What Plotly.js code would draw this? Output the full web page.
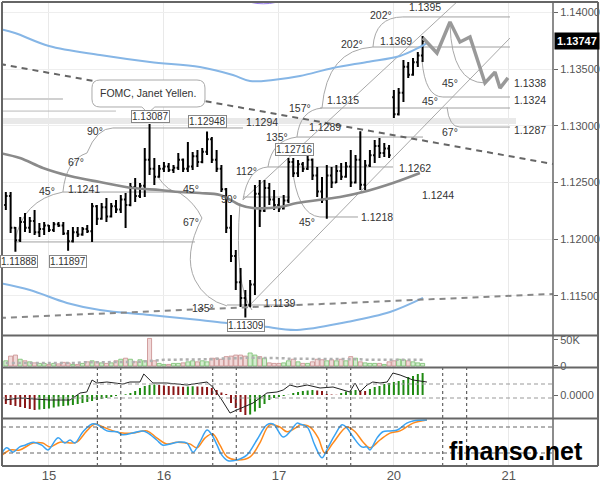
<!DOCTYPE html>
<html><head><meta charset="utf-8">
<script src="https://cdn.plot.ly/plotly-3.0.1.min.js"></script>
<style>html,body{margin:0;padding:0;background:#fff}#chart{width:600px;height:485px}</style>
</head><body><div id="chart"></div>
<script>
// ---------- DATA ----------
const barIndex = [-9,-8,-7,-6,-5,-4,-3,-2,-1,0,1,2,3,4,5,6,7,8,9,10,11,12,13,14,15,16,17,18,19,20,21,22,23,24,25,26,27,28,29,30,31,32,33,34,35,36,37,38,39,40,41,42,43,44,45,46,47,48,49,50,51,52,53,54,55,56,57,58,59,60,61,62,63,64,65,66,67,68,69,70,71,72,73,74,75,76,77,78];
const dayTickIndex = [0,24,48,72,96];
const dayTickLabels = ['15','16','17','20','21'];
const priceTicks = [1.115,1.12,1.125,1.13,1.135,1.14];
const lastPrice = 1.13747;

const openP = [1.12300,1.12380,1.12100,1.11990,1.12150,1.12100,1.12160,1.12060,1.12090,1.12120,1.12080,1.12130,1.12120,1.12050,1.11980,1.12060,1.12040,1.12090,1.12070,1.12290,1.12180,1.12280,1.12200,1.12290,1.12260,1.12350,1.12300,1.12460,1.12380,1.12470,1.12700,1.12620,1.12550,1.12620,1.12640,1.12610,1.12630,1.12700,1.12620,1.12640,1.12730,1.12680,1.12770,1.12880,1.12700,1.12620,1.12440,1.12100,1.11850,1.11620,1.11480,1.11420,1.11600,1.12400,1.12250,1.12450,1.12350,1.12300,1.12270,1.12340,1.12680,1.12580,1.12660,1.12620,1.12700,1.12560,1.12420,1.12350,1.12560,1.12500,1.12600,1.12550,1.12640,1.12500,1.12700,1.12480,1.12650,1.12740,1.12820,1.12760,1.12800,1.13250,1.13100,1.13290,1.13520,1.13450,1.13560,1.13620];
const highP = [1.12415,1.12415,1.12107,1.12195,1.12230,1.12195,1.12257,1.12142,1.12151,1.12124,1.12151,1.12151,1.12151,1.12080,1.12107,1.12107,1.12107,1.12124,1.12318,1.12301,1.12318,1.12362,1.12318,1.12345,1.12389,1.12406,1.12495,1.12539,1.12495,1.12803,1.13015,1.12715,1.12653,1.12680,1.12671,1.12653,1.12759,1.12710,1.12856,1.12768,1.12786,1.12803,1.12948,1.12900,1.12786,1.12653,1.12450,1.12212,1.11904,1.11746,1.11551,1.11640,1.12477,1.12521,1.12521,1.12495,1.12433,1.12362,1.12389,1.12716,1.12715,1.12698,1.12680,1.12759,1.12710,1.12636,1.12548,1.12653,1.12636,1.12653,1.12671,1.12680,1.12786,1.12742,1.12950,1.12698,1.12786,1.12874,1.12892,1.12847,1.12830,1.13315,1.13332,1.13579,1.13562,1.13597,1.13650,1.13791];
const lowP = [1.12257,1.12054,1.11888,1.11975,1.12063,1.12054,1.12036,1.12019,1.12036,1.12063,1.12063,1.12107,1.12036,1.11897,1.11970,1.12019,1.12030,1.12054,1.11975,1.12124,1.12170,1.12151,1.12190,1.12230,1.12230,1.12098,1.12290,1.12327,1.12362,1.12371,1.12565,1.12477,1.12540,1.12592,1.12592,1.12583,1.12609,1.12592,1.12592,1.12609,1.12636,1.12670,1.12742,1.12671,1.12592,1.12415,1.12054,1.11799,1.11551,1.11402,1.11309,1.11400,1.11508,1.12107,1.12240,1.12301,1.12257,1.12239,1.12260,1.12318,1.12548,1.12548,1.12592,1.12610,1.12521,1.12371,1.12318,1.12180,1.12450,1.12495,1.12521,1.12540,1.12459,1.12490,1.12433,1.12433,1.12636,1.12671,1.12715,1.12724,1.12715,1.13068,1.13090,1.13209,1.13421,1.13440,1.13518,1.13562];
const closeP = [1.12380,1.12100,1.11990,1.12150,1.12100,1.12160,1.12060,1.12090,1.12120,1.12080,1.12130,1.12120,1.12050,1.11980,1.12060,1.12040,1.12090,1.12070,1.12290,1.12180,1.12280,1.12200,1.12290,1.12260,1.12350,1.12300,1.12460,1.12380,1.12470,1.12700,1.12620,1.12550,1.12620,1.12640,1.12610,1.12630,1.12700,1.12620,1.12640,1.12730,1.12680,1.12770,1.12880,1.12700,1.12620,1.12440,1.12100,1.11850,1.11620,1.11480,1.11420,1.11600,1.12400,1.12250,1.12450,1.12350,1.12300,1.12270,1.12340,1.12680,1.12580,1.12660,1.12620,1.12700,1.12560,1.12420,1.12350,1.12560,1.12500,1.12600,1.12550,1.12640,1.12500,1.12700,1.12480,1.12650,1.12740,1.12820,1.12760,1.12800,1.12740,1.13100,1.13290,1.13520,1.13450,1.13560,1.13620,1.13747];

const volumeK = [10,19,21,13,10,8,6,5,5,3,5,4,7,6,3,3,5,8,10,8,6,5,6,10,13,15,13,8,12,10,53,10,5,3,3,5,5,6,8,10,8,10,8,15,15,13,18,19,21,21,19,25,21,18,15,6,5,5,6,10,13,8,5,5,8,13,12,10,12,10,13,10,18,15,8,6,5,5,5,3,8,10,13,12,10,8,6,5];
const volumeMaK = [6,6,6,6,6,6,5,5,5,5,6,6,6, 6,6,6,7,7,7,7,7,7,7,7,8,8,8,8,8, 9,10,11,11,12,12,12,12,12,12,12,12,13,13, 13,14,14,14,15,15,15,16,16,16,16,16,15,15,15,15,14,14,14, 13,13,13,13,13,13,13,13,13,13,13,13,13,12,12,12,12,12,12,12,12,12,12,12,12,12];

// MACD values in units of 0.00001
const macdHist = [-18,-20,-22,-24,-26,-28,-30,-29,-28,-27,-25,-23,-22,-21,-20,-18,-16,-14,-12,-10,-8,-6,-4,-2,0.5,1.5,4,8,14,18,20,21,20,19,18,17.5,17,16.5,17,17.5,17,16.5,16,14,10,5,2,-16,-26,-34,-40,-39,-33,-26,-18,-10,-6,-4,-2,0.5,4,6,8,9,10,9,8,2,1,0.5,4,7,9,10,9,8,12,16,18,22,24,26,28,30,36,38,42,44];
const macdLineX = [-9.2,-6,0.2,4.4,6.5,7.9,9,10,12.1,15.4,16.9,19,19.8,21.7,24.6,28.8,33,34.2,36.1,37.8,39.2,42.6,45.5,47.6,48.9,50.3,51.8,53.9,56.6,59.3,62.8,63.9,64.9,66.4,67.6,69.1,70.6,71.8,73.3,76,78.9];
const macdLineV = [-10,-6,-10,-10,4,6,30,24,26,22,26,26,42,24,24,20,26,16,-10,-36,-30,-16,4,6,10,20,16,20,14,16,6,24,6,20,26,24,26,44,40,30,26];

const stochKX = [-9.8,-8.8,-7.5,-6.1,-5,-3.3,-1.5,-0.2,1.9,3.3,4.4,5.4,7.1,9,10.2,12.1,14.2,15.4,17.5,19.6,20.7,22.5,23.8,25.3,26.9,28.8,30.1,31.5,33,34,35.1,36.1,37.4,39.2,41.3,43.4,45.5,46.8,48.9,50.3,51.8,52.4,53.9,55.5,57,58.2,59.7,61.2,62.2,63.5,65.3,66.4,67,68.5,69.7,71.2,72.7,74.7,76,78.9];
const stochKV = [20,32,22,34,38,45,38,27,55,43,50,43,69,87,85,71,69,62,66,71,66,50,38,41,45,43,22,45,73,62,38,15,2,4,15,50,85,87,57,69,89,87,80,38,9,32,62,85,78,57,34,34,27,55,69,71,73,89,94,96];
const stochDX = [-9.8,-8.1,-6.1,-3.3,-1.3,0.2,2.3,4.4,5.8,7.9,9.6,11.3,13.4,15.4,17.5,20.5,22.5,24.6,26.7,29.4,30.9,32.6,34.2,35.7,37.2,39.2,42,44,46.1,48.2,49.7,51.8,52.4,54.5,56.2,57.6,59.3,62.2,63.9,65.6,67,69.1,71.2,73.3,76,78.9];
const stochDV = [15,27,27,43,43,34,45,43,45,71,87,80,71,66,66,71,55,41,45,41,32,55,64,38,11,4,11,43,85,80,69,80,85,80,55,20,43,80,69,45,32,50,66,71,89,96];

const upperBandX = [-10.23,-7.10,0,10.65,21.09,31.52,38.41,41.96,46.76,52.40,59.29,66.39,73.28,77.45,78.91];
const upperBandP = [1.13853,1.13817,1.13703,1.13623,1.13562,1.13518,1.13447,1.13394,1.13403,1.13438,1.13509,1.13562,1.13615,1.13694,1.13729];
const lowerBandX = [-10.23,-3.97,3.76,10.65,21.09,31.52,37.16,44.05,51.77,62.21,71.19,78.08];
const lowerBandP = [1.11612,1.11551,1.11437,1.11375,1.11331,1.11287,1.11260,1.11234,1.11199,1.11269,1.11357,1.11481];
const maX = [-10.23,-6.05,-1.25,4.38,10.65,17.54,23.17,27.35,31.52,35.70,39.87,42.59,48.23,51.77,60.75,65.55,71.82,77.45];
const maP = [1.12759,1.12715,1.12627,1.12556,1.12503,1.12450,1.12433,1.12415,1.12406,1.12389,1.12301,1.12274,1.12283,1.12318,1.12371,1.12415,1.12495,1.12583];
const downTrendX = [-10.23,105.22];
const downTrendP = [1.13544,1.12662];
const supportX = [-10.23,105.22];
const supportP = [1.11305,1.11516];
const forecastX = [78.08,81.00,83.72,85.80,87.89,91.02,93.11,94.15,95.82];
const forecastP = [1.13773,1.13641,1.13914,1.13738,1.13782,1.13377,1.13473,1.13332,1.13421];

// drawn level lines: start, end, price
const levelStart = [73.90,67.64,56.58,82.25,85.80,13.36,51.77,45.72,56.58,2.92,37.16,-7.10,40.50];
const levelEnd   = [96.24,96.24,96.24,96.24,96.24,40.50,78.08,71.82,64.51,27.35,52.40,30.48,50.31];
const levelPrice = [1.13959,1.13694,1.13156,1.13253,1.12988,1.12980,1.12900,1.12636,1.12195,1.12415,1.11419,1.11975,1.12371];

// ---------- BUILD ----------
const font = 'Liberation Sans, Arial, sans-serif';
const isUp = closeP.map((c,i)=>c>=openP[i]);
const volFill = isUp.map(u=>u?'rgba(160,215,150,0.45)':'rgba(225,170,170,0.45)');
const volLine = isUp.map(u=>u?'rgba(120,190,110,0.8)':'rgba(200,140,140,0.8)');
const histCol = macdHist.map((v,i)=> (i>0 && v>=macdHist[i-1]) ? '#1f8a12' : '#8b1515');

const traces = [
  {type:'scatter',mode:'lines',x:upperBandX,y:upperBandP,line:{color:'#86b6e6',width:2,shape:'spline'},xaxis:'x',yaxis:'y',hoverinfo:'skip'},
  {type:'scatter',mode:'lines',x:lowerBandX,y:lowerBandP,line:{color:'#86b6e6',width:2,shape:'spline'},xaxis:'x',yaxis:'y',hoverinfo:'skip'},
  {type:'scatter',mode:'lines',x:maX,y:maP,line:{color:'#8a8a8a',width:2.6,shape:'spline'},xaxis:'x',yaxis:'y',hoverinfo:'skip'},
  {type:'scatter',mode:'lines',x:downTrendX,y:downTrendP,line:{color:'#666',width:2,dash:'6px,5px'},xaxis:'x',yaxis:'y',hoverinfo:'skip'},
  {type:'scatter',mode:'lines',x:supportX,y:supportP,line:{color:'#888',width:2,dash:'6px,5px'},xaxis:'x',yaxis:'y',hoverinfo:'skip'},
  {type:'ohlc',x:barIndex,open:openP,high:highP,low:lowP,close:closeP,tickwidth:0.35,
    increasing:{line:{color:'#000',width:2}},decreasing:{line:{color:'#000',width:2}},xaxis:'x',yaxis:'y',hoverinfo:'skip'},
  {type:'scatter',mode:'lines',x:forecastX,y:forecastP,line:{color:'#999',width:3.5},xaxis:'x',yaxis:'y',hoverinfo:'skip'},
  {type:'bar',x:barIndex,y:volumeK,width:0.85,marker:{color:volFill,line:{color:volLine,width:1}},xaxis:'x',yaxis:'y2',hoverinfo:'skip'},
  {type:'scatter',mode:'lines',x:barIndex,y:volumeMaK,line:{color:'#b0b0b0',width:2.5,dash:'dot'},xaxis:'x',yaxis:'y2',hoverinfo:'skip'},
  {type:'bar',x:barIndex,y:macdHist,width:0.42,marker:{color:histCol},xaxis:'x',yaxis:'y3',hoverinfo:'skip'},
  {type:'scatter',mode:'lines',x:macdLineX,y:macdLineV,line:{color:'#222',width:1},xaxis:'x',yaxis:'y3',hoverinfo:'skip'},
  {type:'scatter',mode:'lines',x:stochDX,y:stochDV,line:{color:'#ff8a1c',width:1.5,shape:'spline'},xaxis:'x',yaxis:'y4',hoverinfo:'skip'},
  {type:'scatter',mode:'lines',x:stochKX,y:stochKV,line:{color:'#3ba3f2',width:1.5,shape:'spline'},xaxis:'x',yaxis:'y4',hoverinfo:'skip'}
];

const shapes = [];
shapes.push({type:'rect',xref:'x',yref:'y',x0:-10.23,x1:97.5,y0:1.13015,y1:1.13068,fillcolor:'#e9e9e9',line:{width:0},layer:'between'});
shapes.push({type:'line',xref:'x',yref:'y',x0:-10.23,x1:2.92,y0:1.13235,y1:1.13235,line:{color:'#d0d0d0',width:2},layer:'between'});
shapes.push({type:'line',xref:'x',yref:'y',x0:-10.23,x1:13.99,y0:1.13129,y1:1.13129,line:{color:'#bbb',width:1},layer:'between'});
levelPrice.forEach((p,i)=>shapes.push({type:'line',xref:'x',yref:'y',x0:levelStart[i],x1:levelEnd[i],y0:p,y1:p,line:{color:'#a0a0a0',width:1},layer:'between'}));
const arcPaths = [
  'M-7.10,1.11975 Q-5.64,1.12345 2.92,1.12415 Q3.55,1.12698 7.93,1.12759 Q10.02,1.12980 13.36,1.12980',
  'M22.76,1.12548 Q24.84,1.12415 27.35,1.12406 Q30.48,1.12318 31.94,1.12186 Q27.97,1.11861 30.48,1.11640 Q32.57,1.11463 37.16,1.11411',
  'M39.87,1.12318 Q38.62,1.11595 42.38,1.11375',
  'M40.50,1.12345 Q41.54,1.12627 45.72,1.12636 Q46.56,1.12874 51.77,1.12900 Q52.40,1.13138 57.00,1.13156 Q58.04,1.13668 67.64,1.13694 Q68.06,1.13959 73.90,1.13959',
  'M50.73,1.12653 Q51.77,1.12212 56.58,1.12195',
  'M77.87,1.13579 Q78.50,1.13253 82.25,1.13253',
  'M83.72,1.13888 Q84.13,1.13377 91.02,1.13377',
  'M83.09,1.13165 Q83.51,1.12988 85.80,1.12988',
  'M41.34,1.11393 L96.24,1.13773',
  'M40.50,1.12345 L85.59,1.14108'
];
arcPaths.forEach(p=>shapes.push({type:'path',xref:'x',yref:'y',path:p,line:{color:'#a8a8a8',width:1},layer:'between'}));
shapes.push({type:'path',xref:'x',yref:'y',layer:'above',fillcolor:'#fff',line:{color:'#aaa',width:1},
  path:'M10.65,1.13403 L30.90,1.13403 Q32.57,1.13403 32.57,1.13333 L32.57,1.13235 Q32.57,1.13165 30.90,1.13165 L22.10,1.13165 L20.67,1.13111 L19.40,1.13165 L10.65,1.13165 Q8.98,1.13165 8.98,1.13235 L8.98,1.13333 Q8.98,1.13403 10.65,1.13403 Z'});
shapes.push({type:'circle',xref:'x',yref:'y',x0:41.3,x1:48.2,y0:1.14075,y1:1.14150,line:{color:'#9b7ff0',width:1}});
[22,-6].forEach(v=>shapes.push({type:'line',xref:'paper',yref:'y3',x0:0,x1:1,y0:v,y1:v,line:{color:'#999',width:1,dash:'4px,3px'}}));
[80,20].forEach(v=>shapes.push({type:'line',xref:'paper',yref:'y4',x0:0,x1:1,y0:v,y1:v,line:{color:'#666',width:1,dash:'4px,3px'}}));
[10.1,15,34.2,39.1,58,63,82.2,87.2].forEach(v=>shapes.push({type:'line',xref:'x',yref:'paper',x0:v,x1:v,y0:0,y1:0.2112,line:{color:'#444',width:1,dash:'dot'}}));
[1,0.2812,0.2123,0.1024,0].forEach(yy=>shapes.push({type:'line',xref:'paper',yref:'paper',x0:0,x1:1.0817,y0:yy,y1:yy,line:{color:'#666',width:2}}));
[0,1,1.0817].forEach(xx=>shapes.push({type:'line',xref:'paper',yref:'paper',x0:xx,x1:xx,y0:0,y1:1,line:{color:'#666',width:xx===1?1.5:2}}));

const annotations = [];
const plainLabels = [
 ['1.1395',78.5,1.14047],['202°',69.3,1.13976],['1.1369',72.4,1.13747],['202°',63.3,1.13720],['1.1315',61.4,1.13227],
 ['157°',52.4,1.13156],['1.1289',57.6,1.12988],['135°',47.6,1.12900],['112°',41.3,1.12600],['1.1262',76.4,1.12627],
 ['1.1244',81.2,1.12389],['1.1218',68.5,1.12195],['45°',53.9,1.12151],['1.1139',48.2,1.11437],['45°',79.5,1.13218],
 ['45°',83.7,1.13377],['67°',83.7,1.12944],['1.1338',100.4,1.13377],['1.1324',100.4,1.13227],['1.1287',100.4,1.12962],
 ['1.1294',44.5,1.13032],['90°',9.6,1.12953],['67°',5.6,1.12680],['45°',-0.4,1.12424],['1.1241',7.3,1.12442],
 ['45°',29.6,1.12442],['67°',29.6,1.12151],['90°',37.6,1.12354],['135°',32.2,1.11393]
];
plainLabels.forEach(l=>annotations.push({xref:'x',yref:'y',x:l[1],y:l[2],text:l[0],showarrow:false,borderpad:0,
  font:{family:font,size:10.5,color:'#333'},xanchor:'center',yanchor:'middle'}));
const boxLabels = [['1.11888',-6.3,1.11799],['1.11897',4.0,1.11799],['1.13087',21.1,1.13081],['1.12948',33.0,1.13034],['1.12716',51.2,1.12786],['1.11309',41.1,1.11234]];
boxLabels.forEach(l=>annotations.push({xref:'x',yref:'y',x:l[1],y:l[2],text:l[0],showarrow:false,bgcolor:'#fff',
  bordercolor:'#888',borderwidth:1,borderpad:0,font:{family:font,size:10,color:'#333'},xanchor:'center',yanchor:'middle'}));
annotations.push({xref:'x',yref:'y',x:20.77,y:1.13284,text:'FOMC, Janet Yellen.',showarrow:false,font:{family:font,size:10.5,color:'#333'}});
annotations.push({xref:'paper',yref:'y',x:1.002,y:lastPrice,xanchor:'left',yanchor:'middle',text:'<b>'+lastPrice.toFixed(5)+'</b>',
  showarrow:false,bgcolor:'#000',borderpad:2,font:{family:font,size:11,color:'#fff'}});
annotations.push({xref:'paper',yref:'paper',x:0.933,y:-0.001,xanchor:'center',yanchor:'bottom',text:'<b>finanso.net</b>',
  showarrow:false,borderpad:0,font:{family:font,size:25,color:'#000'}});

const axisFont = {family:font,size:11,color:'#555'};
const layout = {
  width:600,height:485,margin:{l:2,r:47,t:2,b:19},paper_bgcolor:'#fff',plot_bgcolor:'#fff',
  showlegend:false,barmode:'overlay',
  xaxis:{range:[-9.8,105.22],anchor:'y4',tickvals:dayTickIndex,ticktext:dayTickLabels,showgrid:true,gridcolor:'#e9e9e9',
    zeroline:false,showline:false,ticks:'',tickfont:{family:font,size:13,color:'#555'},rangeslider:{visible:false},fixedrange:true},
  yaxis:{domain:[0.2823,1],range:[1.111543,1.140908],side:'right',tickvals:priceTicks,ticktext:priceTicks.map(v=>v.toFixed(5)),
    showgrid:true,gridcolor:'#eeeeee',zeroline:false,ticks:'outside',ticklen:4,tickcolor:'#666',tickfont:axisFont,fixedrange:true},
  yaxis2:{domain:[0.2134,0.2802],range:[-1.9,57.7],side:'right',anchor:'x',tickvals:[0,50],ticktext:['0','50K'],showgrid:false,
    zeroline:false,ticks:'outside',ticklen:4,tickcolor:'#666',tickfont:axisFont},
  yaxis3:{domain:[0.1034,0.2112],range:[-46,54],side:'right',anchor:'x',tickvals:[0],ticktext:['0.0000'],showgrid:false,
    zeroline:false,ticks:'outside',ticklen:4,tickcolor:'#666',tickfont:axisFont},
  yaxis4:{domain:[0,0.1013],range:[-10,98.5],side:'right',anchor:'x',showticklabels:false,showgrid:false,zeroline:false},
  shapes:shapes,annotations:annotations
};
Plotly.newPlot('chart',traces,layout,{staticPlot:true,displayModeBar:false});
</script></body></html>
